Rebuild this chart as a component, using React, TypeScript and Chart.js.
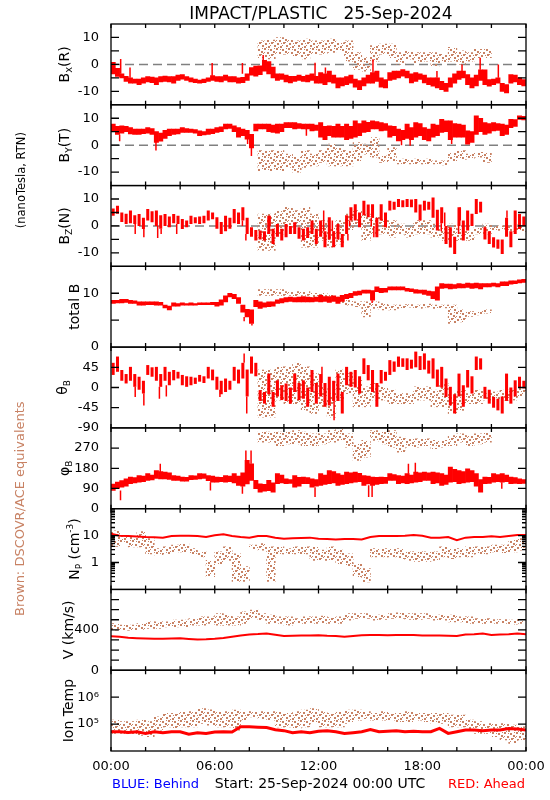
import React, { useEffect, useRef } from 'react';
import { Chart, registerables } from 'chart.js';

Chart.register(...registerables);

const FONT = "'DejaVu Sans', Verdana, sans-serif";
const RED = '#ff0000';
const BROWN = 'rgb(200,130,100)';
const BLUE = '#0000ff';

const titleText = 'IMPACT/PLASTIC   25-Sep-2024';
const unitsText = '(nanoTesla, RTN)';
const brownText = 'Brown: DSCOVR/ACE equivalents';
const behindText = 'BLUE: Behind';
const startText = 'Start: 25-Sep-2024 00:00 UTC';
const aheadText = 'RED: Ahead';
const xTickHours = [0, 6, 12, 18, 24];
const xTickLabels = ['00:00', '06:00', '12:00', '18:00', '00:00'];
const xMinorHours = [0, 2, 4, 6, 8, 10, 12, 14, 16, 18, 20, 22, 24];
const tempTickValues = [1e5, 1e6];
const tempTickLabels = ['10\u2075', '10\u2076'];

const RED_BIN = 0.25;   // hours per red bin
const BROWN_BIN = 0.5;  // hours per brown bin
const LINE_STEP = 0.5;  // hours between red line samples
const _ = null;

// ---- Bx (R) ----
const bxRed = [
  [-3.5,0.8],[-4.5,-1.5],[-5,-3.5],[-6.3,-4.4],
  [-7,-5],[-7,-5.5],[-7.5,-5.5],[-7,-5],
  [-6.5,-4.5],[-6.8,-4.7],[-7.5,-5],[-6.5,-4.5],
  [-6.3,-4.3],[-6.5,-4.5],[-7,-4.5],[-6,-4],
  [-5.5,-3.8],[-6,-4.5],[-6.5,-5],[-6.8,-5.5],
  [-7,-5.8],[-6.8,-5.5],[-6.3,-5],[-6,-4.2],
  [-6.3,-4.5],[-6.5,-4.5],[-6,-4],[-6.5,-4.5],
  [-6.5,-4.5],[-7,-5],[-6.8,-4.8],[-6,-3.5],
  [-4,-1.2],[-4.4,-0.6],[-3.8,-0.5],[-2.5,1.5],
  [-3.5,1],[-5,-1],[-6,-3.5],[-5.6,-3.5],
  [-6.5,-4],[-6.9,-4.4],[-6.3,-4.4],[-6,-4],
  [-6.3,-4.4],[-6.5,-4],[-6,-3.5],[-7,-4.4],
  [-7,-3],[-7.5,-3.5],[-6.5,-2.5],[-7,-4],
  [-8.7,-5],[-8,-5],[-7.5,-4.5],[-7,-4],
  [-8.5,-5.5],[-9.4,-6],[-8,-5],[-7,-4],
  [-7,-3],[-6.3,-2.5],[-8.5,-5],[-8.7,-5.6],
  [-6,-3],[-5.6,-2.5],[-5,-2.5],[-4.4,-1.9],
  [-5,-2.5],[-6.9,-3.5],[-6.3,-3],[-5.6,-3.5],
  [-6.9,-4],[-7.5,-5],[-8.1,-5],[-8.75,-5],
  [-9.4,-6.3],[-10,-7],[-8.5,-5],[-7,-3.5],
  [-5.6,-2.5],[-5,-2.5],[-7.5,-3.75],[-8.75,-5],
  [-8,-4],[-6,-2],[-7.5,-2],[-8.1,-5.6],
  [-7.5,-5.5],[-7,-5],[-10,-7],[-10.6,-7.5],
  [-7,-3.75],[-6.5,-4],[-7.5,-5],[-8,-5.6],
];
const bxSpikes = [
  [0.56,-3.5,2],[1.1,-5,-1.2],[5.85,-4.2,0.5],[7.6,-3.5,0.5],[8.8,1.5,3.5],[11.8,-4.4,0.6],
  [12.4,-3.5,-1.2],[15.15,-3,1.9],[18.85,-5,-2.5],[20.3,-2.5,0],[21.35,-2,2.5],[22.4,-5,0],
];
const bxBrown = [
  _,_,_,_,_,_,_,_,_,_,_,_,_,_,_,_,_,
  [2.5,8.75],[2,9],[3.75,10],[3.75,9.4],[3,8.75],[2,9.4],[3.75,8.75],[3.75,8.75],[4.4,9.4],
  [5,8],[1.2,8.75],[-1.9,4.4],[-2.5,2.5],[1.2,7],[3.75,7.5],[2.5,7.5],[0,4.4],[1.9,5],
  [0.6,4.4],[1.2,4.4],[-0.6,4.4],[0.6,3.75],[1.2,6.3],[0,5],[1.2,4.4],[2.5,5.6],[2.5,5.6],
  _,_,_,_,
];

// ---- By (T) ----
const byRed = [
  [5,7.8],[4,7],[4.5,7.2],[5,7],
  [4.2,6.5],[4,6],[4,6],[4.3,6],
  [4.5,6.5],[4,6.2],[1,5],[1.5,4.5],
  [2.5,5.5],[3.5,6],[4,6],[4.2,6],
  [4.7,6.5],[4.7,6.2],[4.7,6],[4.5,5.8],
  [3.5,5.3],[3.8,5],[4,6],[4.3,6],
  [4.7,6.5],[5,6.8],[6,7.8],[6.2,7.8],
  [5,7.2],[3,6.5],[3.5,6],[2.2,5.5],
  [-1,4],[5.3,7.8],[6,7.8],[6,7.8],
  [5,7.8],[4.7,7.5],[4.5,7.8],[5,7.8],
  [6.5,8.4],[6.5,8.4],[6,8.4],[6.2,8],
  [6,7.8],[6,7.8],[5.3,7.8],[5.5,7.5],
  [3,8.4],[2,7],[3.5,7.2],[3,7],
  [3,7.8],[3,7],[2,7.8],[2.5,7],
  [3,9],[3.5,8],[4.7,9],[5,8.5],
  [6,9],[6,8.8],[5.3,8.4],[5.5,8],
  [3,7.2],[3.5,7],[1.6,6],[2,5.5],
  [2.5,7.8],[2,6.5],[3,8.4],[3.5,8],
  [2,6.5],[1.6,6],[3,7.8],[3.5,7.5],
  [4.7,9.6],[5,9],[2,9],[3,8],
  [3,7.8],[3,7.5],[0.4,5.3],[1,5],
  [4,10.9],[5,10],[4,8.4],[4.5,8],
  [5.3,8.4],[5.5,8],[3.5,7.8],[4,7.5],
  [6.5,9.6],[7,9.5],[9.6,10.9],[9.4,10.7],
];
const bySpikes = [
  [0.5,1.5,4],[2.6,-2,1.5],[7.9,0.4,2.5],[8.12,-4,-1],[11.3,3.5,6],[16.8,0,2],[17.3,-0.2,2.5],[19.7,0.4,3],
];
const byBrown = [
  _,_,_,_,_,_,_,_,_,_,_,_,_,_,_,_,_,
  [-9.5,-2],[-9.5,-2],[-9.5,-2],[-8.3,-3.3],[-10,-4.5],[-8.3,-2],[-7.7,-3.3],[-6.4,-2],[-7.7,0.4],
  [-7.7,-0.9],[-7.7,-2],[-5.8,1],[-3.3,0.4],[-4.5,2.8],[-6.4,-4],[-5.8,-0.9],[-7,-5.2],[-7,-5.2],
  [-7,-5.2],[-7,-5.2],[-7,-5.8],[-7.3,-5.8],[-5.8,-2.7],[-5.2,-2],[-5.2,-3.3],[-4.5,-2.7],[-6.4,-2.7],
  _,_,_,_,
];

// ---- Bz (N) ----
const bzRed = [
  [3.8,6.5],[4.5,7.5],[1.5,5],[0.7,4.5],
  [1,5.7],[0.7,4],[0,4.4],[-1.1,3],
  [2,6.3],[1.4,5.5],[0,5.7],[-1,4],
  [0,4.4],[-0.5,3.5],[1,4.4],[0.7,3.8],
  [-1.1,2.6],[-0.5,2],[0.7,3.8],[1,3.2],
  [0.7,3.5],[1,3.8],[2,5.7],[2.5,5],
  [-1,3.2],[-3,1.5],[-2,3.8],[-1,3],
  [1,6.3],[0.7,5],[2,6.9],[-3,3],
  [-4,-0.5],[-5.4,-1.5],[-5,-1.7],[-5.4,-2],
  [-3,3.8],[-6.7,-1],[-4,0.7],[-5.4,-1],
  [-4.2,0.7],[-3,0],[-3,1.4],[-4.8,-0.5],
  [-5.4,-1],[-4.5,-0.5],[-3,2],[-6.7,-1],
  [-4,2],[-7.9,-2],[-5,3.2],[-7.9,-2],
  [-5,0.7],[-7.9,-3],[-3,4],[2,6.9],
  [2,8.1],[-0.5,5],[4,9.4],[3.2,8],
  [3,8.1],[-4.2,3],[2,8.1],[-0.5,5],
  [5.7,9.4],[6,9],[7,10],[6.9,9.5],
  [7,10],[6.9,9.8],[5,10],[2,8],
  [5.7,9.4],[6,9],[3,10.6],[-1.7,6],
  [1,6.9],[-6.7,0],[-8,-0.5],[-10.4,-4],
  [0,6.9],[-5.4,2],[-1.7,5.7],[0,4.5],
  [4.4,10],[5,9],[-5,-0.5],[-6.7,-2],
  [-8,-4.2],[-8.5,-5],[-10.4,-5],[-4,3],
  [-7.9,-2],[-3,5.7],[-1.1,4.4],[0,3.5],
];
const bzSpikes = [
  [1.4,-3,0.7],[1.9,-4.2,-1.1],[2.7,-4.5,0],[2.9,-3,-1],[3.8,-3,0.7],[7.6,0,2],[7.8,-5.4,-3],
  [9.2,0,3.8],[12.3,-2,5.7],[12.8,-2,2],[13.7,-5.4,-3],[13.8,0,2],[15.05,0,3],[15.2,-4.2,0],
  [19.1,-2,1],[19.3,0,5],[20.1,-3,0],[20.2,2,6.9],[22.9,3,5.7],
];
const bzBrown = [
  _,_,_,_,_,_,_,_,_,_,_,_,_,_,_,_,_,
  [-9.1,4.4],[-9.1,4.4],[-3,5.7],[-0.5,6.9],[-0.5,5.7],[-7.9,6.9],[-7.9,4.4],[-5.4,2],[-7.9,-0.5],
  [-6.7,2],[-1.7,4.4],[-0.5,5.7],[-5.4,4.4],[-3,3.2],[-3,3.2],[-4.2,2],[-3,0.7],[-4.2,-0.5],
  [-3,2],[-3,2],[-4.2,0.7],[-5.4,-0.5],[-5.4,0.7],[-5.4,-1.1],[-5.4,-1.7],[-3,-0.5],[-3,0.7],
  [-1.7,0],[-1.2,0],[-2,0.5],[-2,0],
];

// ---- total B ----
const btRed = [
  [8.1,8.7],[8.2,8.7],[8.2,8.85],[8.3,8.85],
  [8.1,8.7],[8.1,8.6],[7.8,8.4],[7.8,8.4],
  [7.9,8.4],[7.9,8.4],[7.8,8.4],[7.8,8.3],
  [7.3,7.8],[6.9,7.6],[7.6,8.2],[7.6,8.1],
  [7.8,8.2],[7.8,8.1],[7.8,8.2],[7.8,8.1],
  [7.9,8.2],[7.9,8.2],[7.9,8.2],[7.9,8.3],
  [7.6,8.3],[7.8,8.8],[8.4,9.5],[9.3,10],
  [9,9.8],[8.1,9.2],[6.5,7.8],[5.6,7],
  [4.4,6.9],[7.5,8.7],[7.2,8.4],[7.4,8.2],
  [7.5,8.4],[7.6,8.4],[8.1,8.8],[8.2,9],
  [8.4,9.2],[8.5,9.3],[8.4,9.2],[8.4,9.3],
  [8.4,9.4],[8.4,9.3],[8.4,9.2],[8.5,9.3],
  [8.4,9.6],[8.5,9.4],[8.3,9.4],[8.5,9.5],
  [8.1,9.3],[8.5,9.6],[9,9.8],[9.2,10],
  [9.6,10.3],[9.7,10.4],[10,10.6],[10,10.6],
  [8.7,10.5],[10.3,11.2],[10.1,10.9],[10.2,10.9],
  [10.6,11.2],[10.6,11.2],[10.6,11.2],[10.6,11.2],
  [10.4,10.9],[10.3,10.8],[10,10.7],[10,10.6],
  [9.8,10.6],[9.6,10.4],[9,10.3],[8.7,11.2],
  [10.9,11.8],[11,11.7],[10.8,11.7],[10.9,11.6],
  [11,11.8],[11,11.7],[11.1,11.9],[10.9,11.8],
  [11,11.9],[10.8,11.8],[11.2,11.8],[11.2,11.8],
  [11.3,11.9],[11.2,11.8],[11.4,12.1],[11.4,12.1],
  [11.7,12.3],[11.8,12.3],[11.9,12.5],[12,12.6],
];
const btSpikes = [[7.7,4.8,5.6],[8.15,4,4.4],[15.1,8.2,8.7]];
const btBrown = [
  _,_,_,_,_,_,_,_,_,_,_,_,_,_,_,_,_,
  [9.6,10.7],[9.6,10.7],[9.6,10.7],[9.6,10.3],[9.4,10.3],[9.6,10.3],[9.2,10],[9.2,10],[9,9.6],
  [8.1,9.3],[7.8,8.7],[7.5,8.4],[5.6,8.4],[7.2,8.4],[6.9,8.1],[6.9,7.8],[7.2,7.8],[7.4,7.9],
  [7.2,7.8],[7.4,8],[7.2,7.8],[7.3,7.8],[4.4,7.8],[4.7,6.9],[5.7,6.6],[6,6.6],[6.3,6.9],
  _,_,_,_,
];

// ---- theta B ----
const thRed = [
  [28,55],[35,69],[15,39],[9,30],
  [15,46],[1.5,30],[-5,24],[-13.5,15],
  [28,50],[24,45],[15,46],[1.5,30],
  [15,46],[5,35],[16,39],[20,35],
  [5,28],[1.5,25],[5,24],[8,22],
  [13,28],[10,25],[20,46],[16,40],
  [-5,24],[-15,15],[-10,20],[-5,15],
  [15,46],[9,40],[20,55],[-20,40],
  [31,69],[25,55],[-30,-6],[-36,-10],
  [-15,31],[-43,-10],[-20,16],[-28,5],
  [-30,9],[-36,0],[-10,31],[-28,10],
  [-25,16],[-43,0],[-10,39],[-36,10],
  [-20,30],[-43,10],[-40,24],[-30,15],
  [-30,31],[-58,-10],[5,46],[1.5,35],
  [0,39],[-13.5,25],[30,65],[16,50],
  [-10,39],[-43,10],[9,39],[15,35],
  [28,61],[35,58],[46,69],[46,65],
  [39,65],[42,62],[45,80],[39,70],
  [40,76],[31,60],[20,65],[1.5,40],
  [0,46],[-21,20],[-40,1.5],[-58,-15],
  [-20,31],[-43,5],[0,39],[-13.5,25],
  [39,69],[40,65],[-25,1.5],[-36,-5],
  [-45,-21],[-51,-25],[-58,-20],[-30,31],
  [-36,0],[-20,16],[0,24],[-2,15],
];
const thSpikes = [
  [1.4,-21,1.5],[1.9,-40,-13.5],[2.8,-25,1.5],[3.2,-20,5],[6.3,-21,-5],[7.7,55,76],[7.85,-58,-20],
  [12.2,10,46],[12.9,-73,-30],
];
const thBrown = [
  _,_,_,_,_,_,_,_,_,_,_,_,_,_,_,_,_,
  [-66,39],[-66,39],[-28,46],[-36,46],[-36,54],[-51,46],[-58,31],[-43,1.5],[-66,-13.5],
  [-28,39],[-13.5,31],[-43,16],[-43,1.5],[-28,9],[-28,1.5],[-36,-6],[-36,-13.5],[-36,-13.5],
  [-28,1.5],[-28,1.5],[-43,-6],[-43,9],[-58,-13.5],[-51,-6],[-36,-13.5],[-36,-6],[-28,-13.5],
  [-25,-10],[-28,-6],[-28,-6],[-20,0],
];

// ---- phi B ----
const phRed = [
  [81,110],[90,118],[96,125],[100,133],
  [111,141],[115,138],[118,148],[120,145],
  [126,156],[128,150],[135,170],[133,165],
  [133,163],[130,160],[126,148],[126,145],
  [123,141],[123,140],[129,148],[130,146],
  [133,156],[135,155],[125,148],[118,145],
  [118,141],[120,140],[118,148],[120,145],
  [115,156],[104,145],[100,160],[110,215],
  [126,200],[89,126],[74,111],[78,108],
  [80,126],[74,115],[111,156],[115,150],
  [111,133],[112,130],[96,148],[100,140],
  [111,141],[111,138],[96,133],[100,130],
  [104,156],[108,150],[111,170],[115,165],
  [104,156],[108,150],[111,163],[115,160],
  [118,163],[120,158],[104,148],[110,145],
  [104,141],[108,140],[111,141],[112,140],
  [126,156],[126,152],[111,148],[115,145],
  [111,156],[115,150],[118,163],[120,160],
  [126,163],[126,160],[111,163],[115,160],
  [104,156],[108,150],[118,185],[120,175],
  [111,170],[115,165],[118,178],[120,170],
  [100,156],[74,130],[111,141],[112,140],
  [118,156],[120,152],[118,156],[120,150],
  [111,141],[112,138],[111,133],[112,130],
];
const phSpikes = [
  [0.55,37,81],[2.85,163,200],[5.75,81,118],[7.6,67,100],[7.8,215,259],[8.1,200,259],[11.8,52,96],
  [14.9,52,104],[15.1,52,104],[17.2,156,200],[17.6,163,205],[22.6,89,118],
];
const phBrown = [
  _,_,_,_,_,_,_,_,_,_,_,_,_,_,_,_,_,
  [296,341],[296,341],[281,341],[289,341],[289,348],[281,341],[281,333],[289,333],[296,348],
  [304,355],[274,333],[215,289],[230,304],[304,348],[289,341],[274,348],[252,319],[274,311],
  [274,311],[281,311],[267,304],[274,304],[281,326],[296,333],[281,326],[289,333],[296,336],
  _,_,_,_,
];

// ---- Np (cm^-3), 30-min samples ----
const npRed = [
  11.8,9.8,9.7,9.3,8.9,8.7,8.4,9.7,9.9,9.8,9.7,8.9,10.3,11.1,9.7,8.9,8.4,9.7,9.7,8.3,
  7.7,8.0,8.2,8.4,7.7,7.5,7.1,7.5,7.5,7.2,8.9,9.7,9.7,9.7,9.9,10.6,9.9,8.4,8.4,8.9,
  6.7,8.4,8.9,8.9,9.4,8.9,9.7,10.6,10.6,
];
const npBrown = [
  [4,15],[5,10],[3.8,8.9],[3.8,14],[2.1,7.7],[1.9,3.3],[2.1,3.8],[2.5,4.4],[2.5,5],[2.1,3.3],
  [1.6,2.5],[0.3,1.2],[0.9,2.5],[1.2,3.8],[0.2,2.1],[0.2,0.7],[3.3,4.4],[2.9,5],[0.2,3.8],[2.1,3.8],
  [2.1,3.3],[2.1,3.8],[2.1,3.8],[1.2,3.8],[1.2,2.9],[1.2,3.8],[0.9,2.9],[0.7,2.1],[0.3,0.9],[0.19,0.6],
  [1.6,3.3],[1.6,3.3],[1.6,3.3],[1.4,3.3],[1.2,2.5],[1.1,2.5],[1.1,2.5],[1.2,2.5],[1.6,3.8],[1.4,3.3],
  [1.6,3.3],[1.6,3.8],[2.1,3.8],[2.1,3.8],[2.5,4.4],[2.3,4.4],[2.5,6.7],[2.9,7.7],
];

// ---- V (km/s) ----
const vRed = [
  337,331,321,317,314,312,311,314,317,310,304,306,311,320,331,343,354,358,364,352,
  340,342,344,345,347,342,340,331,340,347,350,348,347,348,350,348,344,344,344,342,
  340,354,357,364,350,354,357,364,357,
];
const vBrown = [
  [397,463],[397,446],[397,446],[403,463],[413,479],[413,479],[430,479],[430,496],[430,496],[446,512],
  [446,529],[463,529],[446,562],[446,545],[446,529],[463,578],[512,595],[496,562],[463,545],[463,529],
  [446,529],[463,512],[463,529],[463,529],[463,536],[463,522],[463,529],[496,562],[512,562],[512,562],
  [496,545],[503,545],[512,562],[512,568],[503,562],[503,562],[512,562],[496,545],[496,545],[479,545],
  [479,529],[463,529],[463,512],[463,512],[463,502],[463,502],[457,496],[463,502],
];

// ---- Ion Temp (K) ----
const tRed = [
  52000,52000,49000,52000,45000,52000,48000,52000,52000,42000,48000,45000,51000,52000,51000,79000,
  79000,76000,74000,62000,57000,48000,52000,48000,54000,57000,52000,45000,48000,52000,63000,52000,
  54000,57000,52000,54000,52000,52000,69000,45000,52000,60000,60000,57000,60000,60000,69000,65000,60000,
];
const tBrown = [
  [45000,141000],[45000,123000],[40000,123000],[38000,141000],[34000,123000],[60000,186000],
  [79000,250000],[70000,250000],[79000,290000],[79000,290000],[105000,380000],[92000,340000],
  [79000,290000],[79000,290000],[60000,330000],[141000,290000],[186000,290000],[160000,290000],
  [141000,290000],[79000,290000],[79000,250000],[70000,290000],[79000,330000],[105000,380000],
  [79000,290000],[79000,250000],[79000,290000],[105000,330000],[141000,330000],[160000,290000],
  [141000,250000],[141000,290000],[141000,250000],[123000,250000],[123000,290000],[141000,250000],
  [123000,250000],[105000,250000],[105000,250000],[79000,215000],[79000,215000],[60000,141000],
  [45000,123000],[45000,105000],[34000,105000],[26000,105000],[19000,91000],[26000,79000],
];

const npMinor = [0.2,0.3,0.4,0.5,0.6,0.7,0.8,0.9,2,3,4,5,6,7,8,9,20,30,40,50,60,70,80,90];

// speckle texture used to fill the brown (DSCOVR/ACE) bands: [x, y, w, h] inside a 12px tile
const SPECKLE_SIZE = 12;
const speckleDots = [
  [0,0,2,2],[6,1,2,2],[3,4,2,2],[9,3,2,2],[1,7,2,2],[7,6,2,2],[10,9,2,2],[4,10,2,2],
  [4,1,1,1],[10,0,1,1],[0,4,1,1],[6,9,1,1],[2,11,1,1],[9,6,1,1],[11,5,1,1],[5,7,1,1],
];

type Part = [string, number, number];
interface Panel {
  id: string; type: string; min: number; max: number;
  labels: number[]; ticks: number[]; minor?: number[];
  red?: number[][]; redWidth?: number; spikes?: number[][]; line?: number[]; lineWidth?: number;
  brown: (number[] | null)[]; zero?: boolean;
  title: Part[]; titleX: number; fmt?: (v: number) => string;
}

const panels: Panel[] = [
  { id: 'yBx', type: 'linear', min: -15, max: 15, labels: [-10, 0, 10], ticks: [-10, -5, 0, 5, 10],
    red: bxRed, redWidth: 1, spikes: bxSpikes, brown: bxBrown, zero: true,
    title: [['B', 14, 0], ['x', 10, 3], ['(R)', 14, 0]], titleX: 69 },
  { id: 'yBy', type: 'linear', min: -15, max: 15, labels: [-10, 0, 10], ticks: [-10, -5, 0, 5, 10],
    red: byRed, redWidth: 1, spikes: bySpikes, brown: byBrown, zero: true,
    title: [['B', 14, 0], ['Y', 9, 3], ['(T)', 14, 0]], titleX: 69 },
  { id: 'yBz', type: 'linear', min: -15, max: 15, labels: [-10, 0, 10], ticks: [-10, -5, 0, 5, 10],
    red: bzRed, redWidth: 0.7, spikes: bzSpikes, brown: bzBrown, zero: true,
    title: [['B', 14, 0], ['Z', 9, 3], ['(N)', 14, 0]], titleX: 69 },
  { id: 'yBt', type: 'linear', min: 0, max: 15, labels: [0, 10], ticks: [5, 10],
    red: btRed, redWidth: 1, spikes: btSpikes, brown: btBrown,
    title: [['total B', 14, 0]], titleX: 79 },
  { id: 'yTh', type: 'linear', min: -90, max: 90, labels: [-90, -45, 0, 45], ticks: [-45, 0, 45],
    red: thRed, redWidth: 0.7, spikes: thSpikes, brown: thBrown,
    title: [['\u03b8', 14, 0], ['B', 9, 3]], titleX: 67 },
  { id: 'yPh', type: 'linear', min: 0, max: 360, labels: [0, 90, 180, 270], ticks: [90, 180, 270],
    red: phRed, redWidth: 1, spikes: phSpikes, brown: phBrown,
    title: [['\u03c6', 14, 0], ['B', 9, 3]], titleX: 69 },
  { id: 'yNp', type: 'logarithmic', min: 0.1, max: 100, labels: [1, 10], ticks: [1, 10], minor: npMinor,
    line: npRed, lineWidth: 2, brown: npBrown,
    title: [['N', 14, 0], ['P', 9, 3], [' (cm', 14, 0], ['-3', 9, -6], [')', 14, 0]], titleX: 79 },
  { id: 'yV', type: 'linear', min: 0, max: 800, labels: [0, 400], ticks: [100, 200, 300, 400, 500, 600, 700],
    line: vRed, lineWidth: 2, brown: vBrown,
    title: [['V (km/s)', 14, 0]], titleX: 73 },
  { id: 'yT', type: 'logarithmic', min: 1e4, max: 1e7, labels: tempTickValues, ticks: tempTickValues,
    line: tRed, lineWidth: 3, brown: tBrown,
    title: [['Ion Temp', 14, 0]], titleX: 73,
    fmt: (v: number) => tempTickLabels[tempTickValues.indexOf(v)] || '' },
];

function drawRotated(ctx: CanvasRenderingContext2D, parts: Part[], cx: number, cy: number, color: string) {
  ctx.save();
  ctx.translate(cx, cy);
  ctx.rotate(-Math.PI / 2);
  ctx.fillStyle = color;
  ctx.textBaseline = 'alphabetic';
  ctx.textAlign = 'left';
  let total = 0;
  const widths = parts.map(([t, s]) => {
    ctx.font = `${s}px ${FONT}`;
    const w = ctx.measureText(t).width;
    total += w;
    return w;
  });
  let x = -total / 2;
  parts.forEach(([t, s, dy], i) => {
    ctx.font = `${s}px ${FONT}`;
    ctx.fillText(t, x, dy);
    x += widths[i];
  });
  ctx.restore();
}

const framePlugin = {
  id: 'idlFrame',
  afterDraw(chart: any) {
    const { ctx, chartArea, scales } = chart;
    const xs = scales.x;
    const L = chartArea.left, R = chartArea.right;
    ctx.save();
    ctx.strokeStyle = '#000';
    ctx.lineWidth = 1.3;
    panels.forEach((p) => {
      const s = scales[p.id];
      const top = s.top, bot = s.bottom;
      ctx.strokeRect(L, top, R - L, bot - top);
      ctx.beginPath();
      xMinorHours.forEach((h) => {
        const x = xs.getPixelForValue(h);
        ctx.moveTo(x, top); ctx.lineTo(x, top + 4);
        ctx.moveTo(x, bot); ctx.lineTo(x, bot - 4);
      });
      p.ticks.forEach((v) => {
        const y = s.getPixelForValue(v);
        ctx.moveTo(L, y); ctx.lineTo(L + 8, y);
        ctx.moveTo(R, y); ctx.lineTo(R - 8, y);
      });
      (p.minor || []).forEach((v) => {
        const y = s.getPixelForValue(v);
        ctx.moveTo(L, y); ctx.lineTo(L + 4, y);
        ctx.moveTo(R, y); ctx.lineTo(R - 4, y);
      });
      ctx.stroke();
      drawRotated(ctx, p.title, p.titleX, (top + bot) / 2, '#000');
    });

    // titles and notes
    ctx.fillStyle = '#000';
    ctx.textBaseline = 'alphabetic';
    ctx.textAlign = 'center';
    ctx.font = `17px ${FONT}`;
    ctx.fillText(titleText, 321, 18.5);

    const sBy = scales.yBy;
    drawRotated(ctx, [[unitsText, 11.5, 0]], 25, (sBy.top + sBy.bottom) / 2 + 35, '#000');
    const sT = scales.yTh, sN = scales.yNp;
    drawRotated(ctx, [[brownText, 13, 0]], 23.5, (sT.bottom + sN.bottom) / 2, BROWN);

    ctx.font = `13px ${FONT}`;
    ctx.textAlign = 'left';
    ctx.fillStyle = BLUE;
    ctx.fillText(behindText, 112, 788);
    ctx.textAlign = 'right';
    ctx.fillStyle = RED;
    ctx.fillText(aheadText, 525, 788);
    ctx.textAlign = 'center';
    ctx.fillStyle = '#000';
    ctx.font = `14px ${FONT}`;
    ctx.fillText(startText, 320, 788);
    ctx.restore();
  },
};

export default function App() {
  const ref = useRef<HTMLCanvasElement>(null);

  useEffect(() => {
    const canvas = ref.current!;
    const c2d = canvas.getContext('2d')!;
    const tile = document.createElement('canvas');
    tile.width = SPECKLE_SIZE; tile.height = SPECKLE_SIZE;
    const tctx = tile.getContext('2d')!;
    tctx.fillStyle = BROWN;
    speckleDots.forEach(([x, y, w, h]) => tctx.fillRect(x, y, w, h));
    const pattern = c2d.createPattern(tile, 'repeat')!;

    const datasets: any[] = [];
    panels.forEach((p) => {
      if (p.red) {
        datasets.push({
          type: 'bar', xAxisID: 'x', yAxisID: p.id,
          data: p.red.map((r, i) => ({ x: i * RED_BIN + RED_BIN / 2, y: r })),
          backgroundColor: RED, borderWidth: 0, barPercentage: p.redWidth ?? 1, categoryPercentage: 1,
          grouped: false, order: 0,
        });
      }
      if (p.spikes) {
        const data: any[] = [];
        p.spikes.forEach(([t, lo, hi]) => { data.push({ x: t, y: lo }, { x: t, y: hi }, { x: t, y: null }); });
        datasets.push({
          type: 'line', xAxisID: 'x', yAxisID: p.id, data,
          borderColor: RED, borderWidth: 1.5, pointRadius: 0, spanGaps: false, order: 0,
        });
      }
      if (p.line) {
        datasets.push({
          type: 'line', xAxisID: 'x', yAxisID: p.id,
          data: p.line.map((v, i) => ({ x: i * LINE_STEP, y: v })),
          borderColor: RED, borderWidth: p.lineWidth, pointRadius: 0, tension: 0, order: 0,
        });
      }
      datasets.push({
        type: 'bar', xAxisID: 'xb', yAxisID: p.id,
        data: p.brown
          .map((r, j) => (r ? { x: j * BROWN_BIN + BROWN_BIN / 2, y: r } : null))
          .filter((d) => d !== null),
        backgroundColor: pattern, borderWidth: 0, barPercentage: 1, categoryPercentage: 1,
        grouped: false, order: 1,
      });
      if (p.zero) {
        datasets.push({
          type: 'line', xAxisID: 'x', yAxisID: p.id,
          data: [{ x: xTickHours[0], y: 0 }, { x: xTickHours[4], y: 0 }],
          borderColor: '#808080', borderWidth: 1.5, borderDash: [9, 5], pointRadius: 0, order: 2,
        });
      }
    });

    const scales: any = {
      x: {
        type: 'linear', min: 0, max: 24, position: 'bottom', offset: false,
        grid: { display: false }, border: { display: false },
        afterBuildTicks: (s: any) => { s.ticks = xTickHours.map((v) => ({ value: v })); },
        afterFit: (s: any) => { s.height = 49; },
        ticks: {
          autoSkip: false, maxRotation: 0, padding: 0, color: '#000',
          font: { family: FONT, size: 13 },
          callback: (v: number) => xTickLabels[xTickHours.indexOf(v)] ?? '',
        },
      },
      xb: { type: 'linear', min: 0, max: 24, display: false, offset: false },
    };
    panels.forEach((p, i) => {
      scales[p.id] = {
        type: p.type, min: p.min, max: p.max, position: 'left', stack: 'panels', stackWeight: 1,
        weight: panels.length - i, offset: false,
        grid: { display: false }, border: { display: false },
        afterBuildTicks: (s: any) => { s.ticks = p.labels.map((v) => ({ value: v })); },
        afterFit: (s: any) => { s.width = 111; },
        ticks: {
          autoSkip: false, padding: 4, color: '#000', font: { family: FONT, size: 13 },
          callback: (v: number) => (p.fmt ? p.fmt(v) : String(v)),
        },
      };
    });

    const chart = new Chart(canvas, {
      type: 'bar',
      data: { datasets },
      options: {
        responsive: false,
        animation: false,
        devicePixelRatio: 1,
        events: [],
        layout: { padding: { left: 0, right: 24, top: 24, bottom: 0 } },
        plugins: { legend: { display: false }, tooltip: { enabled: false }, title: { display: false } },
        scales,
      },
      plugins: [framePlugin],
    } as any);
    return () => chart.destroy();
  }, []);

  return (
    <div style={{ position: 'fixed', left: 0, top: 0, width: 550, height: 800, background: '#fff' }}>
      <canvas ref={ref} width={550} height={800} style={{ display: 'block', width: 550, height: 800 }} />
    </div>
  );
}
